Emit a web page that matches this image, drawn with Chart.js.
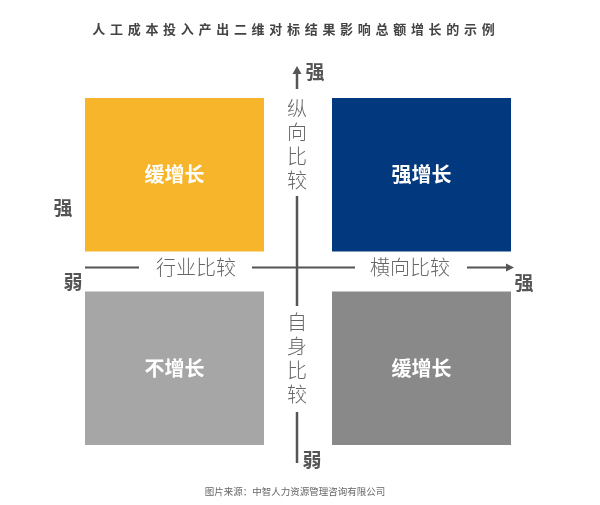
<!DOCTYPE html>
<html>
<head>
<meta charset="utf-8">
<script src="https://cdn.jsdelivr.net/npm/chart.js@4.4.0/dist/chart.umd.min.js"></script>
<style>
  html, body { margin: 0; padding: 0; background: #fff; }
  #wrap { width: 600px; height: 505px; position: relative; }
</style>
</head>
<body>
<div id="wrap"><canvas id="quadrant-chart"></canvas></div>
<script>
  // 数据 - Start
  // --------------------------------------------------
  var levels = ["弱", "强"];                 // 横向比较：弱 -> 强
  var upperRow = [[0, 1], [0, 1]];          // 纵向比较 强
  var lowerRow = [[-1, 0], [-1, 0]];        // 纵向比较 弱
  var upperLabels = ["缓增长", "强增长"];
  var lowerLabels = ["不增长", "缓增长"];
  var xAxisTexts = ["行业比较", "横向比较"];
  var yAxisTexts = ["纵向比较", "自身比较"];
  var titleText = "人工成本投入产出二维对标结果影响总额增长的示例";
  var sourceText = "图片来源：中智人力资源管理咨询有限公司";
  // 数据 - End
  // --------------------------------------------------

  var FONT = '"Noto Sans CJK SC", "Noto Sans", sans-serif';
  var GAP = 20;
  var LINE = "#555555";

  function arrowHead(ctx, x, y, dir) {
    ctx.beginPath();
    if (dir === "up") {
      ctx.moveTo(x, y);
      ctx.lineTo(x - 4.5, y + 8);
      ctx.lineTo(x + 4.5, y + 8);
    } else {
      ctx.moveTo(x, y);
      ctx.lineTo(x - 8, y - 4);
      ctx.lineTo(x - 8, y + 4);
    }
    ctx.closePath();
    ctx.fill();
  }

  function seg(ctx, x1, y1, x2, y2, w) {
    ctx.lineWidth = w;
    ctx.beginPath();
    ctx.moveTo(x1, y1);
    ctx.lineTo(x2, y2);
    ctx.stroke();
  }

  // spaced text, one glyph at a time
  function spaced(ctx, text, cx, cy, step) {
    var chars = text.split("");
    var x0 = cx - (chars.length - 1) * step / 2;
    chars.forEach(function(ch, i) {
      ctx.fillText(ch, x0 + i * step, cy);
    });
  }

  // Quadrant decorations - Start
  // --------------------------------------------------
  var quadrantPlugin = {
    id: "quadrantDecor",
    afterDatasetsDraw: function(chart) {
      var ctx = chart.ctx;
      var x = chart.scales.x, y = chart.scales.y;
      var cx = (x.getPixelForValue(0) + x.getPixelForValue(1)) / 2 - 1;
      var cy = y.getPixelForValue(0) - 4;
      ctx.save();

      // cell labels
      ctx.fillStyle = "#ffffff";
      ctx.font = "bold 20px " + FONT;
      ctx.textAlign = "center";
      ctx.textBaseline = "middle";
      [upperLabels, lowerLabels].forEach(function(labels, di) {
        chart.getDatasetMeta(di).data.forEach(function(el, i) {
          var top = Math.min(el.y, el.base), bottom = Math.max(el.y, el.base);
          if (di === 0) bottom -= GAP; else top += GAP;
          ctx.fillText(labels[i], el.x, (top + bottom) / 2);
        });
      });

      // axes lines
      ctx.strokeStyle = LINE;
      ctx.fillStyle = LINE;
      seg(ctx, cx, 89, cx, 72, 2.5);
      arrowHead(ctx, cx, 66, "up");
      seg(ctx, cx, 196, cx, 306, 2.5);
      seg(ctx, cx, 412, cx, 463, 2.5);
      seg(ctx, 85, cy, 139, cy, 2.2);
      seg(ctx, 252, cy, 355, cy, 2.2);
      seg(ctx, 467, cy, 507, cy, 2.2);
      arrowHead(ctx, 514, cy, "right");

      // axis texts
      ctx.fillStyle = "#666666";
      ctx.font = "300 20px " + FONT;
      ctx.fillText(xAxisTexts[0], 196, cy);
      ctx.fillText(xAxisTexts[1], 410, cy);
      yAxisTexts[0].split("").forEach(function(ch, i) {
        ctx.fillText(ch, cx, 108 + i * 24);
      });
      yAxisTexts[1].split("").forEach(function(ch, i) {
        ctx.fillText(ch, cx, 322 + i * 24);
      });

      // 强 / 弱 ends
      ctx.fillStyle = "#555555";
      ctx.font = "bold 19px " + FONT;
      ctx.fillText(levels[1], cx + 18, 72);
      ctx.fillText(levels[0], cx + 15, 460);
      ctx.fillText(levels[1], 63, 208);
      ctx.fillText(levels[0], 73, 282);
      ctx.fillText(levels[1], 524, 283);

      // title & source
      ctx.fillStyle = "#444444";
      ctx.font = "bold 13px " + FONT;
      spaced(ctx, titleText, 293.5, 29, 17.7);
      ctx.fillStyle = "#666666";
      ctx.font = "9.5px " + FONT;
      ctx.fillText(sourceText, 295, 491);
      ctx.restore();
    }
  };
  // Quadrant decorations - End
  // --------------------------------------------------

  // Chart - Start
  // --------------------------------------------------
  var configQuadrant = document.getElementById("quadrant-chart").getContext("2d");
  var QuadrantChart = new Chart(configQuadrant, {
    type: "bar",
    data: {
      labels: levels,
      datasets: [
      {
        label: "强",
        data: upperRow,
        backgroundColor: ["#F6B52B", "#02387E"],
        borderColor: "#ffffff",
        borderWidth: {top: 0, right: 0, left: 0, bottom: GAP},
        borderSkipped: false
      },
      {
        label: "弱",
        data: lowerRow,
        backgroundColor: ["#A6A6A6", "#898989"],
        borderColor: "#ffffff",
        borderWidth: {top: GAP, right: 0, left: 0, bottom: 0},
        borderSkipped: false
      }
      ]
    },
    options: {
      responsive: true,
      maintainAspectRatio: false,
      animation: false,
      grouped: false,
      barPercentage: 0.725,
      categoryPercentage: 1,
      layout: {
        padding: {left: 51, right: 55, top: 98, bottom: 60}
      },
      scales: {
        x: {type: "category", display: false, offset: true},
        y: {type: "linear", display: false, min: -1, max: 1}
      },
      plugins: {
        legend: {display: false},
        tooltip: {enabled: false},
        title: {display: false}
      }
    },
    plugins: [quadrantPlugin]
  });
  // Chart - End
  // --------------------------------------------------
</script>
</body>
</html>
